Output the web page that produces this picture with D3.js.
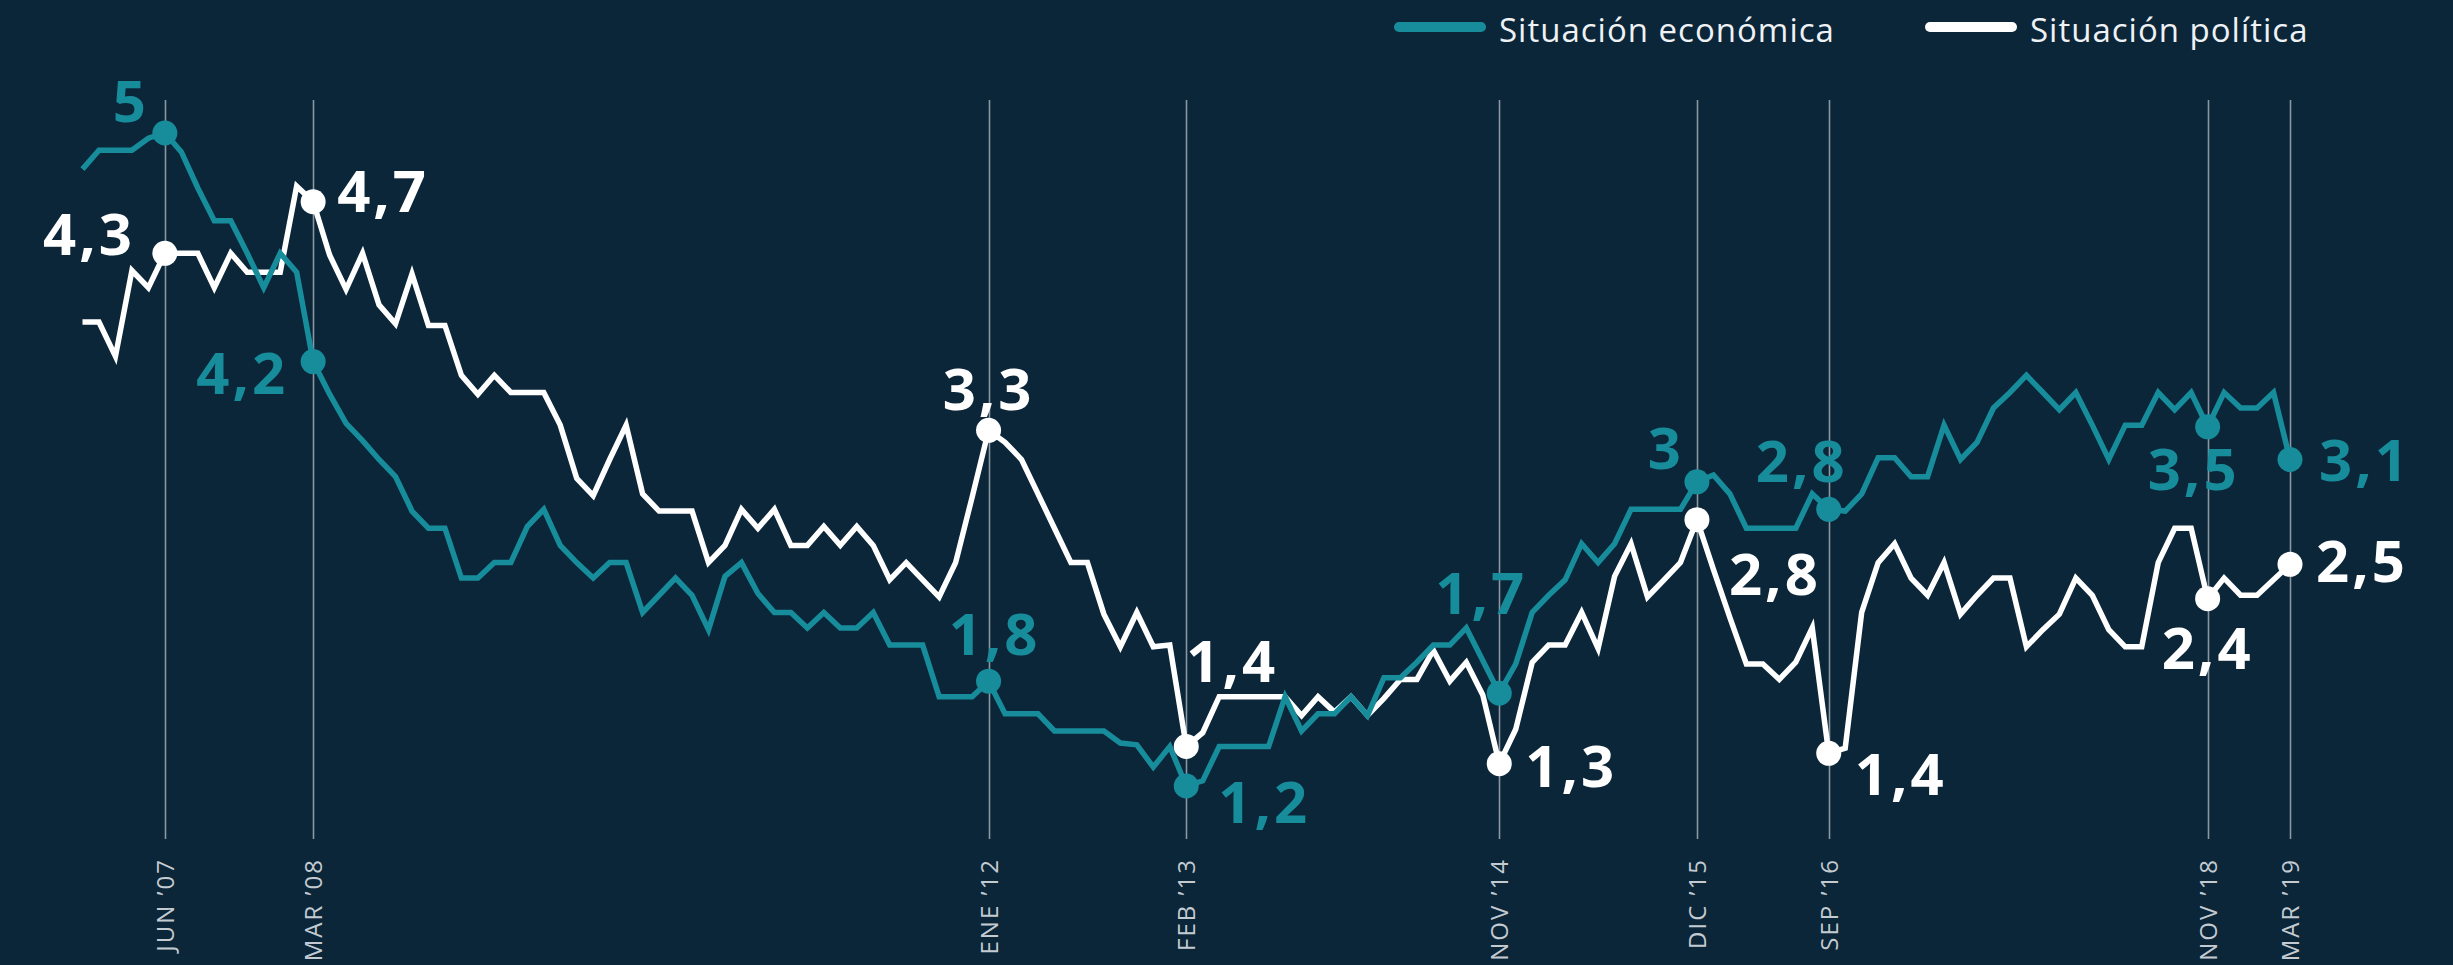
<!DOCTYPE html>
<html>
<head>
<meta charset="utf-8">
<script src="https://cdn.jsdelivr.net/npm/d3@7"></script>
<style>
    html, body { margin: 0; padding: 0; background: #0b2539; }
    svg { display: block; }
    .grid-line { stroke: #8a97a1; stroke-width: 1.6; }
    .tick-label { fill: #c3cbd1; font-family: 'Open Sans', sans-serif; font-size: 24px; letter-spacing: 2px; }
    .legend-label { fill: #eef2f5; font-family: 'Open Sans', sans-serif; font-size: 33px; letter-spacing: 1px; }
    .value-label { font-family: 'Open Sans', sans-serif; font-weight: 700; font-size: 58px; letter-spacing: 3px; }
    .line { fill: none; stroke-width: 5.5; }
</style>
</head>
<body>
<div id="chart"></div>
<script>
// valoración media de la situación (encuesta), una entrada por sondeo
const economica = [
    4.79, 4.90, 4.90, 4.90, 4.97, 5.00, 4.89, 4.68, 4.49, 4.49,
    4.30, 4.10, 4.30, 4.19, 3.67, 3.48, 3.31, 3.21, 3.10, 3.00,
    2.80, 2.70, 2.70, 2.41, 2.41, 2.50, 2.50, 2.71, 2.81, 2.60,
    2.50, 2.41, 2.50, 2.50, 2.21, 2.31, 2.41, 2.31, 2.11, 2.42,
    2.50, 2.32, 2.21, 2.21, 2.12, 2.21, 2.12, 2.12, 2.21, 2.02,
    2.02, 2.02, 1.72, 1.72, 1.72, 1.81, 1.62, 1.62, 1.62, 1.52,
    1.52, 1.52, 1.52, 1.45, 1.44, 1.31, 1.43, 1.20, 1.23, 1.43,
    1.43, 1.43, 1.43, 1.72, 1.52, 1.62, 1.62, 1.72, 1.61, 1.83,
    1.83, 1.92, 2.02, 2.02, 2.12, 1.93, 1.74, 1.91, 2.21, 2.31,
    2.40, 2.61, 2.50, 2.61, 2.81, 2.81, 2.81, 2.81, 2.97, 3.01,
    2.90, 2.70, 2.70, 2.70, 2.70, 2.90, 2.81, 2.80, 2.90, 3.11,
    3.11, 3.00, 3.00, 3.30, 3.10, 3.20, 3.40, 3.49, 3.59, 3.49,
    3.39, 3.49, 3.30, 3.10, 3.30, 3.30, 3.49, 3.39, 3.49, 3.29,
    3.49, 3.40, 3.40, 3.49, 3.10
]
const politica = [
    3.90, 3.90, 3.70, 4.20, 4.10, 4.30, 4.30, 4.30, 4.10, 4.30,
    4.19, 4.19, 4.19, 4.69, 4.60, 4.29, 4.09, 4.30, 4.00, 3.89,
    4.18, 3.88, 3.88, 3.59, 3.48, 3.59, 3.49, 3.49, 3.49, 3.30,
    2.99, 2.89, 3.10, 3.30, 2.90, 2.80, 2.80, 2.80, 2.50, 2.60,
    2.81, 2.70, 2.81, 2.60, 2.60, 2.71, 2.60, 2.71, 2.60, 2.40,
    2.50, 2.40, 2.30, 2.50, 2.88, 3.27, 3.20, 3.10, 2.90, 2.70,
    2.50, 2.50, 2.20, 2.01, 2.21, 2.01, 2.02, 1.43, 1.51, 1.72,
    1.72, 1.72, 1.72, 1.72, 1.61, 1.72, 1.63, 1.72, 1.61, 1.71,
    1.82, 1.82, 1.99, 1.81, 1.92, 1.73, 1.33, 1.53, 1.92, 2.02,
    2.02, 2.21, 2.00, 2.42, 2.61, 2.30, 2.40, 2.50, 2.75, 2.46,
    2.18, 1.91, 1.91, 1.82, 1.92, 2.12, 1.39, 1.42, 2.21, 2.50,
    2.61, 2.41, 2.31, 2.50, 2.20, 2.31, 2.41, 2.41, 2.01, 2.11,
    2.20, 2.41, 2.31, 2.11, 2.01, 2.01, 2.50, 2.70, 2.70, 2.29,
    2.41, 2.31, 2.31, 2.40, 2.49
]

const tickIndex = [5, 14, 55, 67, 86, 98, 106, 129, 134]
const tickLabels = ['JUN ’07', 'MAR ’08', 'ENE ’12', 'FEB ’13', 'NOV ’14', 'DIC ’15', 'SEP ’16', 'NOV ’18', 'MAR ’19']

const seriesNames = ['Situación económica', 'Situación política']

// valores destacados tal como aparecen rotulados
const labelSeries = [0, 1, 1, 0, 1, 0, 1, 0, 0, 1, 0, 1, 0, 1, 0, 1, 0, 1]
const labelIndex  = [5, 5, 14, 14, 55, 55, 67, 67, 86, 86, 98, 98, 106, 106, 129, 129, 134, 134]
const labelText   = ['5', '4,3', '4,7', '4,2', '3,3', '1,8', '1,4', '1,2', '1,7', '1,3', '3', '2,8', '2,8', '1,4', '3,5', '2,4', '3,1', '2,5']

const width = 2453
const height = 965
const colors = ['#178d9c', '#ffffff']

// posición de cada rótulo respecto a su punto: [dx, dy, anchor]
const labelOffsets = [
    [-16, -11, 'end'], [-30, 2, 'end'], [24, 10, 'start'], [-25, 32, 'end'],
    [0, -20, 'middle'], [6, -26, 'middle'], [0, -64, 'start'], [32, 37, 'start'],
    [-18, -79, 'middle'], [26, 23, 'start'], [-13, -13, 'end'], [32, 75, 'start'],
    [-27, -27, 'middle'], [26, 42, 'start'], [-14, 63, 'middle'], [0, 70, 'middle'],
    [29, 21, 'start'], [26, 18, 'start']
]

const xScale = d3.scaleLinear().domain([0, economica.length - 1]).range([82.5, 2290])
const yScale = d3.scaleLinear().domain([1.2, 5]).range([786, 133])

const svg = d3.select('#chart').append('svg')
    .attr('width', width)
    .attr('height', height)

svg.append('rect')
    .attr('width', width)
    .attr('height', height)
    .attr('fill', '#0b2539')

// líneas verticales de referencia
const gridG = svg.append('g')
gridG.selectAll('.grid-line')
    .data(tickIndex)
    .enter()
    .append('path')
    .attr('class', 'grid-line')
    .attr('d', i => `M ${Math.round(xScale(i)) + 0.5} 100 V 839`)

gridG.selectAll('.tick-label')
    .data(tickIndex)
    .enter()
    .append('text')
    .attr('class', 'tick-label')
    .attr('text-anchor', 'end')
    .attr('dy', '0.36em')
    .attr('transform', i => `translate(${Math.round(xScale(i)) + 0.5},858) rotate(-90)`)
    .text((i, k) => tickLabels[k])

const line = d3.line()
    .x((d, i) => xScale(i))
    .y(d => yScale(d))

const series = [economica, politica]

// la línea económica va por encima de la política
const linesG = svg.append('g')
linesG.append('path')
    .datum(politica)
    .attr('class', 'line')
    .attr('stroke', colors[1])
    .attr('d', line)
linesG.append('path')
    .datum(economica)
    .attr('class', 'line')
    .attr('stroke', colors[0])
    .attr('d', line)

const marksG = svg.append('g')
marksG.selectAll('circle')
    .data(labelIndex)
    .enter()
    .append('circle')
    .attr('cx', i => xScale(i))
    .attr('cy', (i, k) => yScale(series[labelSeries[k]][i]))
    .attr('r', 12.5)
    .attr('fill', (i, k) => colors[labelSeries[k]])

marksG.selectAll('.value-label')
    .data(labelIndex)
    .enter()
    .append('text')
    .attr('class', 'value-label')
    .attr('x', (i, k) => xScale(i) + labelOffsets[k][0])
    .attr('y', (i, k) => yScale(series[labelSeries[k]][i]) + labelOffsets[k][1])
    .attr('text-anchor', (i, k) => labelOffsets[k][2])
    .attr('fill', (i, k) => colors[labelSeries[k]])
    .text((i, k) => labelText[k])

// leyenda
const legendX = [1394, 1925]
const legendG = svg.append('g')
const legendItem = legendG.selectAll('g')
    .data(seriesNames)
    .enter()
    .append('g')
    .attr('transform', (d, i) => `translate(${legendX[i]},27)`)
legendItem.append('rect')
    .attr('x', 0)
    .attr('y', -5)
    .attr('width', 92)
    .attr('height', 10)
    .attr('rx', 5)
    .attr('fill', (d, i) => colors[i])
legendItem.append('text')
    .attr('class', 'legend-label')
    .attr('x', 105)
    .attr('y', 15)
    .text(d => d)
</script>
</body>
</html>
